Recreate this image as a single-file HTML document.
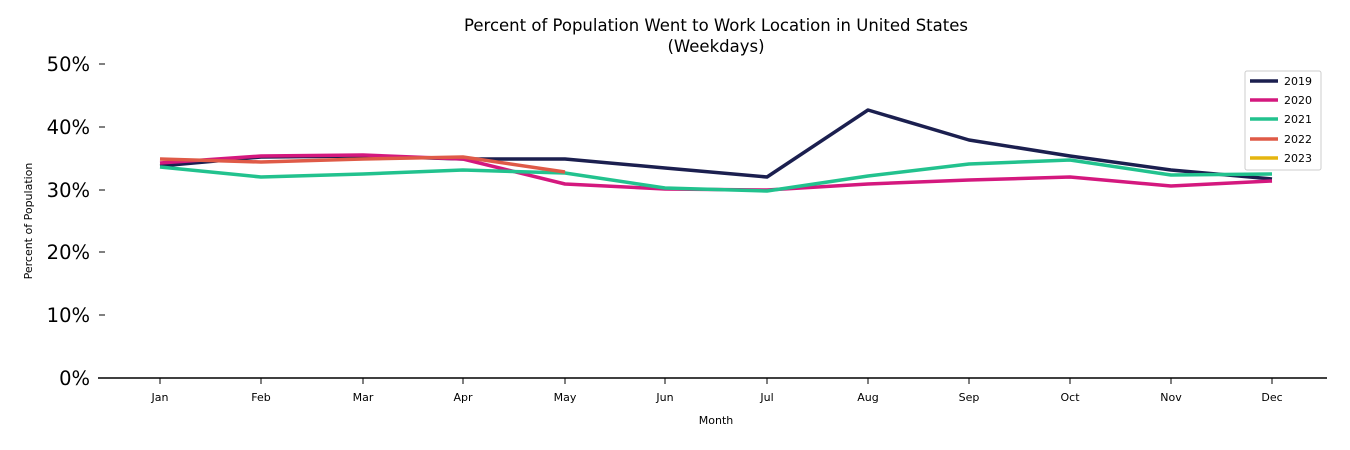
<!DOCTYPE html>
<html><head><meta charset="utf-8"><style>
html,body{margin:0;padding:0;background:#fff;}
svg{display:block;font-family:"DejaVu Sans","Liberation Sans",sans-serif;}
</style></head><body>
<svg width="1350" height="450" viewBox="0 0 1350 450" xmlns="http://www.w3.org/2000/svg">
<text x="716" y="31" font-size="16.5" text-anchor="middle" fill="#000">Percent of Population Went to Work Location in United States</text>
<text x="716" y="52" font-size="16.5" text-anchor="middle" fill="#000">(Weekdays)</text>
<g font-size="19.5" text-anchor="end" fill="#000">
<text x="90" y="71">50%</text><text x="90" y="134">40%</text><text x="90" y="197">30%</text>
<text x="90" y="259">20%</text><text x="90" y="322">10%</text><text x="90" y="385">0%</text>
</g>
<g stroke="#000" stroke-width="1">
<line x1="99" y1="64" x2="105" y2="64"/><line x1="99" y1="127" x2="105" y2="127"/><line x1="99" y1="190" x2="105" y2="190"/>
<line x1="99" y1="252" x2="105" y2="252"/><line x1="99" y1="315" x2="105" y2="315"/>
<line x1="98" y1="378" x2="1327" y2="378" stroke-width="1.5"/>
<line x1="160" y1="378" x2="160" y2="384"/><line x1="261" y1="378" x2="261" y2="384"/><line x1="363" y1="378" x2="363" y2="384"/><line x1="463" y1="378" x2="463" y2="384"/><line x1="565" y1="378" x2="565" y2="384"/><line x1="665" y1="378" x2="665" y2="384"/><line x1="767" y1="378" x2="767" y2="384"/><line x1="868" y1="378" x2="868" y2="384"/><line x1="969" y1="378" x2="969" y2="384"/><line x1="1070" y1="378" x2="1070" y2="384"/><line x1="1171" y1="378" x2="1171" y2="384"/><line x1="1272" y1="378" x2="1272" y2="384"/>
</g>
<g font-size="11" text-anchor="middle" fill="#000">
<text x="160" y="401">Jan</text><text x="261" y="401">Feb</text><text x="363" y="401">Mar</text><text x="463" y="401">Apr</text><text x="565" y="401">May</text><text x="665" y="401">Jun</text><text x="767" y="401">Jul</text><text x="868" y="401">Aug</text><text x="969" y="401">Sep</text><text x="1070" y="401">Oct</text><text x="1171" y="401">Nov</text><text x="1272" y="401">Dec</text>
<text x="716" y="424">Month</text>
</g>
<text transform="translate(32,221) rotate(-90)" font-size="11" text-anchor="middle">Percent of Population</text>
<g fill="none" stroke-width="3.5" stroke-linejoin="round">
<polyline stroke="#1b1f4f" points="160,166 261,157 363,156 463,159 565,159 665,168 767,177 868,110 969,140 1070,156 1171,170 1272,179"/>
<polyline stroke="#d4187e" points="160,163 261,156 363,155 463,159 565,184 665,189 767,190 868,184 969,180 1070,177 1171,186 1272,181"/>
<polyline stroke="#22c28e" points="160,167 261,177 363,174 463,170 565,173 665,188 767,191 868,176 969,164 1070,160 1171,175 1272,174"/>
<polyline stroke="#df5a47" points="160,159 261,162 363,159 463,157 565,172"/>
</g>
<rect x="1245" y="71" width="76" height="99" fill="#fff" stroke="#ccc" rx="2"/>
<g stroke-width="3.5">
<line x1="1250" y1="81" x2="1278" y2="81" stroke="#1b1f4f"/>
<line x1="1250" y1="100" x2="1278" y2="100" stroke="#d4187e"/>
<line x1="1250" y1="119" x2="1278" y2="119" stroke="#22c28e"/>
<line x1="1250" y1="139" x2="1278" y2="139" stroke="#df5a47"/>
<line x1="1250" y1="158" x2="1278" y2="158" stroke="#e5b50f"/>
</g>
<g font-size="11" fill="#000">
<text x="1284" y="85">2019</text><text x="1284" y="104">2020</text><text x="1284" y="123">2021</text><text x="1284" y="143">2022</text><text x="1284" y="162">2023</text>
</g>
</svg>
</body></html>
